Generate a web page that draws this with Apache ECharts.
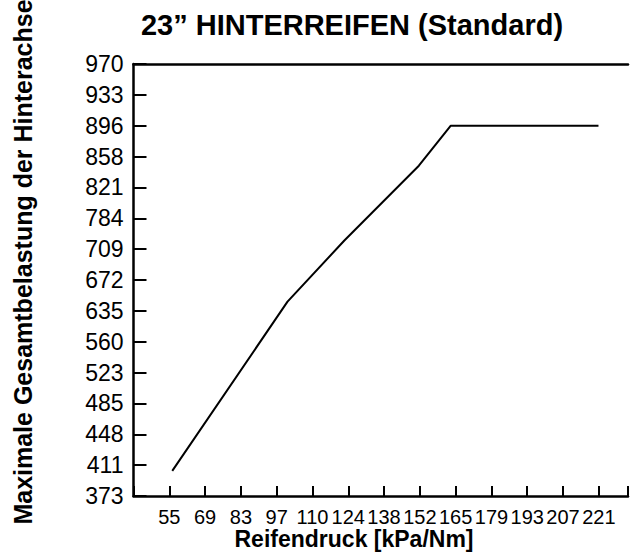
<!DOCTYPE html>
<html><head><meta charset="utf-8">
<script src="https://cdn.jsdelivr.net/npm/echarts@6/dist/echarts.min.js"></script>
<style>html,body{margin:0;padding:0;background:#fff}#c{width:631px;height:554px}</style>
</head><body><div id="c"></div>
<script>
const titleText = '23\u201D HINTERREIFEN (Standard)';
const xAxisTitle = 'Reifendruck [kPa/Nm]';
const yAxisTitle = 'Maximale Gesamtbelastung der Hinterachse';
const xTickPsi = [8, 10, 12, 14, 16, 18, 20, 22, 24, 26, 28, 30, 32];
const xTickLabels = ['55', '69', '83', '97', '110', '124', '138', '152', '165', '179', '193', '207', '221'];
const yTickLabels = ['373', '411', '448', '485', '523', '560', '635', '672', '709', '784', '821', '858', '896', '933', '970'];
const pressureKPa = [56.3, 100.7, 122.6, 151.3, 163.6, 220.5];
const loadKg = [404, 646, 730, 847, 896, 896];

const FONT = '"Liberation Sans", Arial, sans-serif';
const KPA_PER_PSI = 6.894757;
const xStep = 2 * KPA_PER_PSI;          // one tick = 2 psi
const xMin = 3 * xStep;                 // multiple of the interval
const xMax = xMin + 13.815 * xStep;     // frame runs off the right edge
const yVals = yTickLabels.map(Number);
// position of a load value among the evenly spaced printed tick labels
function slot(v) {
  for (let i = 0; i < yVals.length - 1; i++) {
    if (v <= yVals[i + 1]) return i + (v - yVals[i]) / (yVals[i + 1] - yVals[i]);
  }
  return yVals.length - 1;
}
function xLabel(v) {
  const psi = v / KPA_PER_PSI;
  const i = Math.round((psi - xTickPsi[0]) / 2);
  if (i < 0 || i >= xTickPsi.length || Math.abs(psi - xTickPsi[i]) > 0.2) return '';
  return xTickLabels[i];
}

const chart = echarts.init(document.getElementById('c'), null, { renderer: 'svg' });
chart.setOption({
  animation: false,
  backgroundColor: '#fff',
  textStyle: { fontFamily: FONT, color: '#000' },
  title: {
    text: titleText, left: 352, top: 10, textAlign: 'center', padding: 0,
    textStyle: { fontSize: 29, fontWeight: 'bold', color: '#000', fontFamily: FONT }
  },
  grid: { left: 133.5, right: 0, top: 64, bottom: 58, containLabel: false },
  xAxis: [{
    type: 'value', min: xMin, max: xMax, interval: xStep, position: 'bottom',
    axisLine: { show: true, onZero: false, lineStyle: { color: '#000', width: 2.5 } },
    axisTick: { show: true, inside: true, length: 10, lineStyle: { color: '#000', width: 2 } },
    axisLabel: {
      margin: 11, fontSize: 20, color: '#000', fontFamily: FONT,
      showMinLabel: true, showMaxLabel: true, formatter: xLabel
    },
    splitLine: { show: false }
  }, {
    type: 'value', min: xMin, max: xMax, position: 'top',
    axisLine: { show: true, onZero: false, lineStyle: { color: '#000', width: 2.5 } },
    axisTick: { show: false }, axisLabel: { show: false }, splitLine: { show: false }
  }],
  yAxis: {
    type: 'value', min: 0, max: 14, interval: 1,
    axisLine: { show: true, onZero: false, lineStyle: { color: '#000', width: 2.5 } },
    axisTick: { show: true, inside: true, length: 13, lineStyle: { color: '#000', width: 2 } },
    axisLabel: {
      margin: 10, fontSize: 23, color: '#000', fontFamily: FONT,
      showMinLabel: true, showMaxLabel: true,
      formatter: v => yTickLabels[Math.round(v)]
    },
    splitLine: { show: false }
  },
  series: [{
    type: 'line', xAxisIndex: 0, yAxisIndex: 0,
    data: pressureKPa.map((x, i) => [x, slot(loadKg[i])]),
    symbol: 'none', showSymbol: false,
    lineStyle: { color: '#000', width: 2 }
  }],
  graphic: [{
    type: 'text', x: 22.5, y: 262, rotation: Math.PI / 2,
    style: { text: yAxisTitle, font: 'bold 25px ' + FONT, fill: '#000', align: 'center', verticalAlign: 'middle', textAlign: 'center', textVerticalAlign: 'middle' }
  }, {
    type: 'text', x: 354, y: 539,
    style: { text: xAxisTitle, font: 'bold 23px ' + FONT, fill: '#000', align: 'center', verticalAlign: 'middle', textAlign: 'center', textVerticalAlign: 'middle' }
  }]
});
</script>
</body></html>
